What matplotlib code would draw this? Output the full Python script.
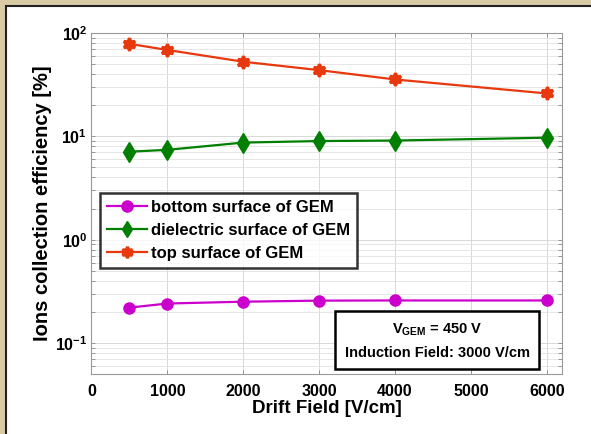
import matplotlib
matplotlib.use("Agg")
import matplotlib.pyplot as plt
from matplotlib.patches import Rectangle
from matplotlib.ticker import LogLocator, NullFormatter, FixedLocator

plt.rcParams['font.family'] = ['Liberation Sans', 'DejaVu Sans']
plt.rcParams['font.weight'] = 'bold'
plt.rcParams['mathtext.fontset'] = 'custom'
plt.rcParams['mathtext.rm'] = 'Liberation Sans:bold'
plt.rcParams['mathtext.bf'] = 'Liberation Sans:bold'
plt.rcParams['axes.unicode_minus'] = False

drift_field = [500, 1000, 2000, 3000, 4000, 6000]
bottom_surface = [0.22, 0.241, 0.251, 0.257, 0.258, 0.258]
dielectric_surface = [7.1, 7.4, 8.7, 9.0, 9.1, 9.7]
top_surface = [78.5, 68.5, 52.7, 43.7, 35.5, 26.0]

x_ticks = [0, 1000, 2000, 3000, 4000, 5000, 6000]
series_labels = ["bottom surface of GEM", "dielectric surface of GEM", "top surface of GEM"]

fig = plt.figure(figsize=(5.91, 4.34), dpi=100)
fig.patch.set_facecolor('white')
# outer beige frame with black line
fig.patches.append(Rectangle((0, 0), 1, 1, transform=fig.transFigure, facecolor='#d8cba6', edgecolor='none', zorder=-10))
fig.patches.append(Rectangle((5.5/591, -0.05), 1.1, 1 - 5.5/434 + 0.05, transform=fig.transFigure,
                             facecolor='white', edgecolor='#222222', linewidth=1.5, zorder=-9))

ax = fig.add_axes([0.1548, 0.138, 0.796, 0.786])
ax.set_yscale('log')
ax.set_xlim(0, 6200)
ax.set_ylim(0.05, 100)

ax.plot(drift_field, bottom_surface, color='#cc00cc', marker='o', markersize=8, linewidth=1.6,
        label=series_labels[0], zorder=3)
ax.plot(drift_field, dielectric_surface, color='#007f00', marker='d', markersize=10, linewidth=1.6,
        label=series_labels[1], zorder=3)
ax.plot(drift_field, top_surface, color='#e8380d', marker=(6, 1, 0), markersize=9, linewidth=1.6,
        markeredgewidth=2.2, label=series_labels[2], zorder=3)

ax.xaxis.set_major_locator(FixedLocator(x_ticks))
ax.set_xticklabels([str(t) for t in x_ticks], fontsize=11.5, fontweight='bold')
ax.yaxis.set_major_locator(LogLocator(base=10, numticks=10))
ax.yaxis.set_minor_locator(LogLocator(base=10, subs=range(2, 10), numticks=20))
ax.yaxis.set_minor_formatter(NullFormatter())
for lbl in ax.get_yticklabels():
    lbl.set_fontsize(11.5)
    lbl.set_fontweight('bold')
ax.tick_params(axis='both', which='both', direction='in', top=True, right=True, length=3, width=0.6,
               color='#888888', labelsize=11.5)
ax.tick_params(axis='x', which='major', pad=7)
ax.tick_params(axis='y', which='major', pad=3)

ax.grid(True, which='major', color='#d8d8d8', linewidth=0.7)
ax.grid(True, which='minor', axis='y', color='#e2e2e2', linewidth=0.6)
for s in ax.spines.values():
    s.set_color('#9a9a9a')
    s.set_linewidth(0.8)

ax.set_xlabel('Drift Field [V/cm]', fontsize=13.5, fontweight='bold', labelpad=1)
ax.set_ylabel('Ions collection efficiency [%]', fontsize=14.5, fontweight='bold', labelpad=2)

leg = ax.legend(loc='upper left', bbox_to_anchor=(0.018, 0.531), fontsize=12, frameon=True,
                fancybox=False, edgecolor='black', handlelength=2.4, borderpad=0.4,
                labelspacing=0.5, handletextpad=0.25, borderaxespad=0)
leg.get_frame().set_linewidth(1.8)
for t in leg.get_texts():
    t.set_fontweight('bold')
for h in leg.legend_handles:
    h.set_markersize(8)

ax.text(0.735, 0.098, r'$\mathregular{V_{GEM}}$ = 450 V' + '\nInduction Field: 3000 V/cm',
        transform=ax.transAxes, ha='center', va='center', fontsize=10.5, fontweight='bold',
        linespacing=1.7,
        bbox=dict(boxstyle='square,pad=0.65', facecolor='white', edgecolor='black', linewidth=1.8))

fig.savefig('out.png', dpi=100)
